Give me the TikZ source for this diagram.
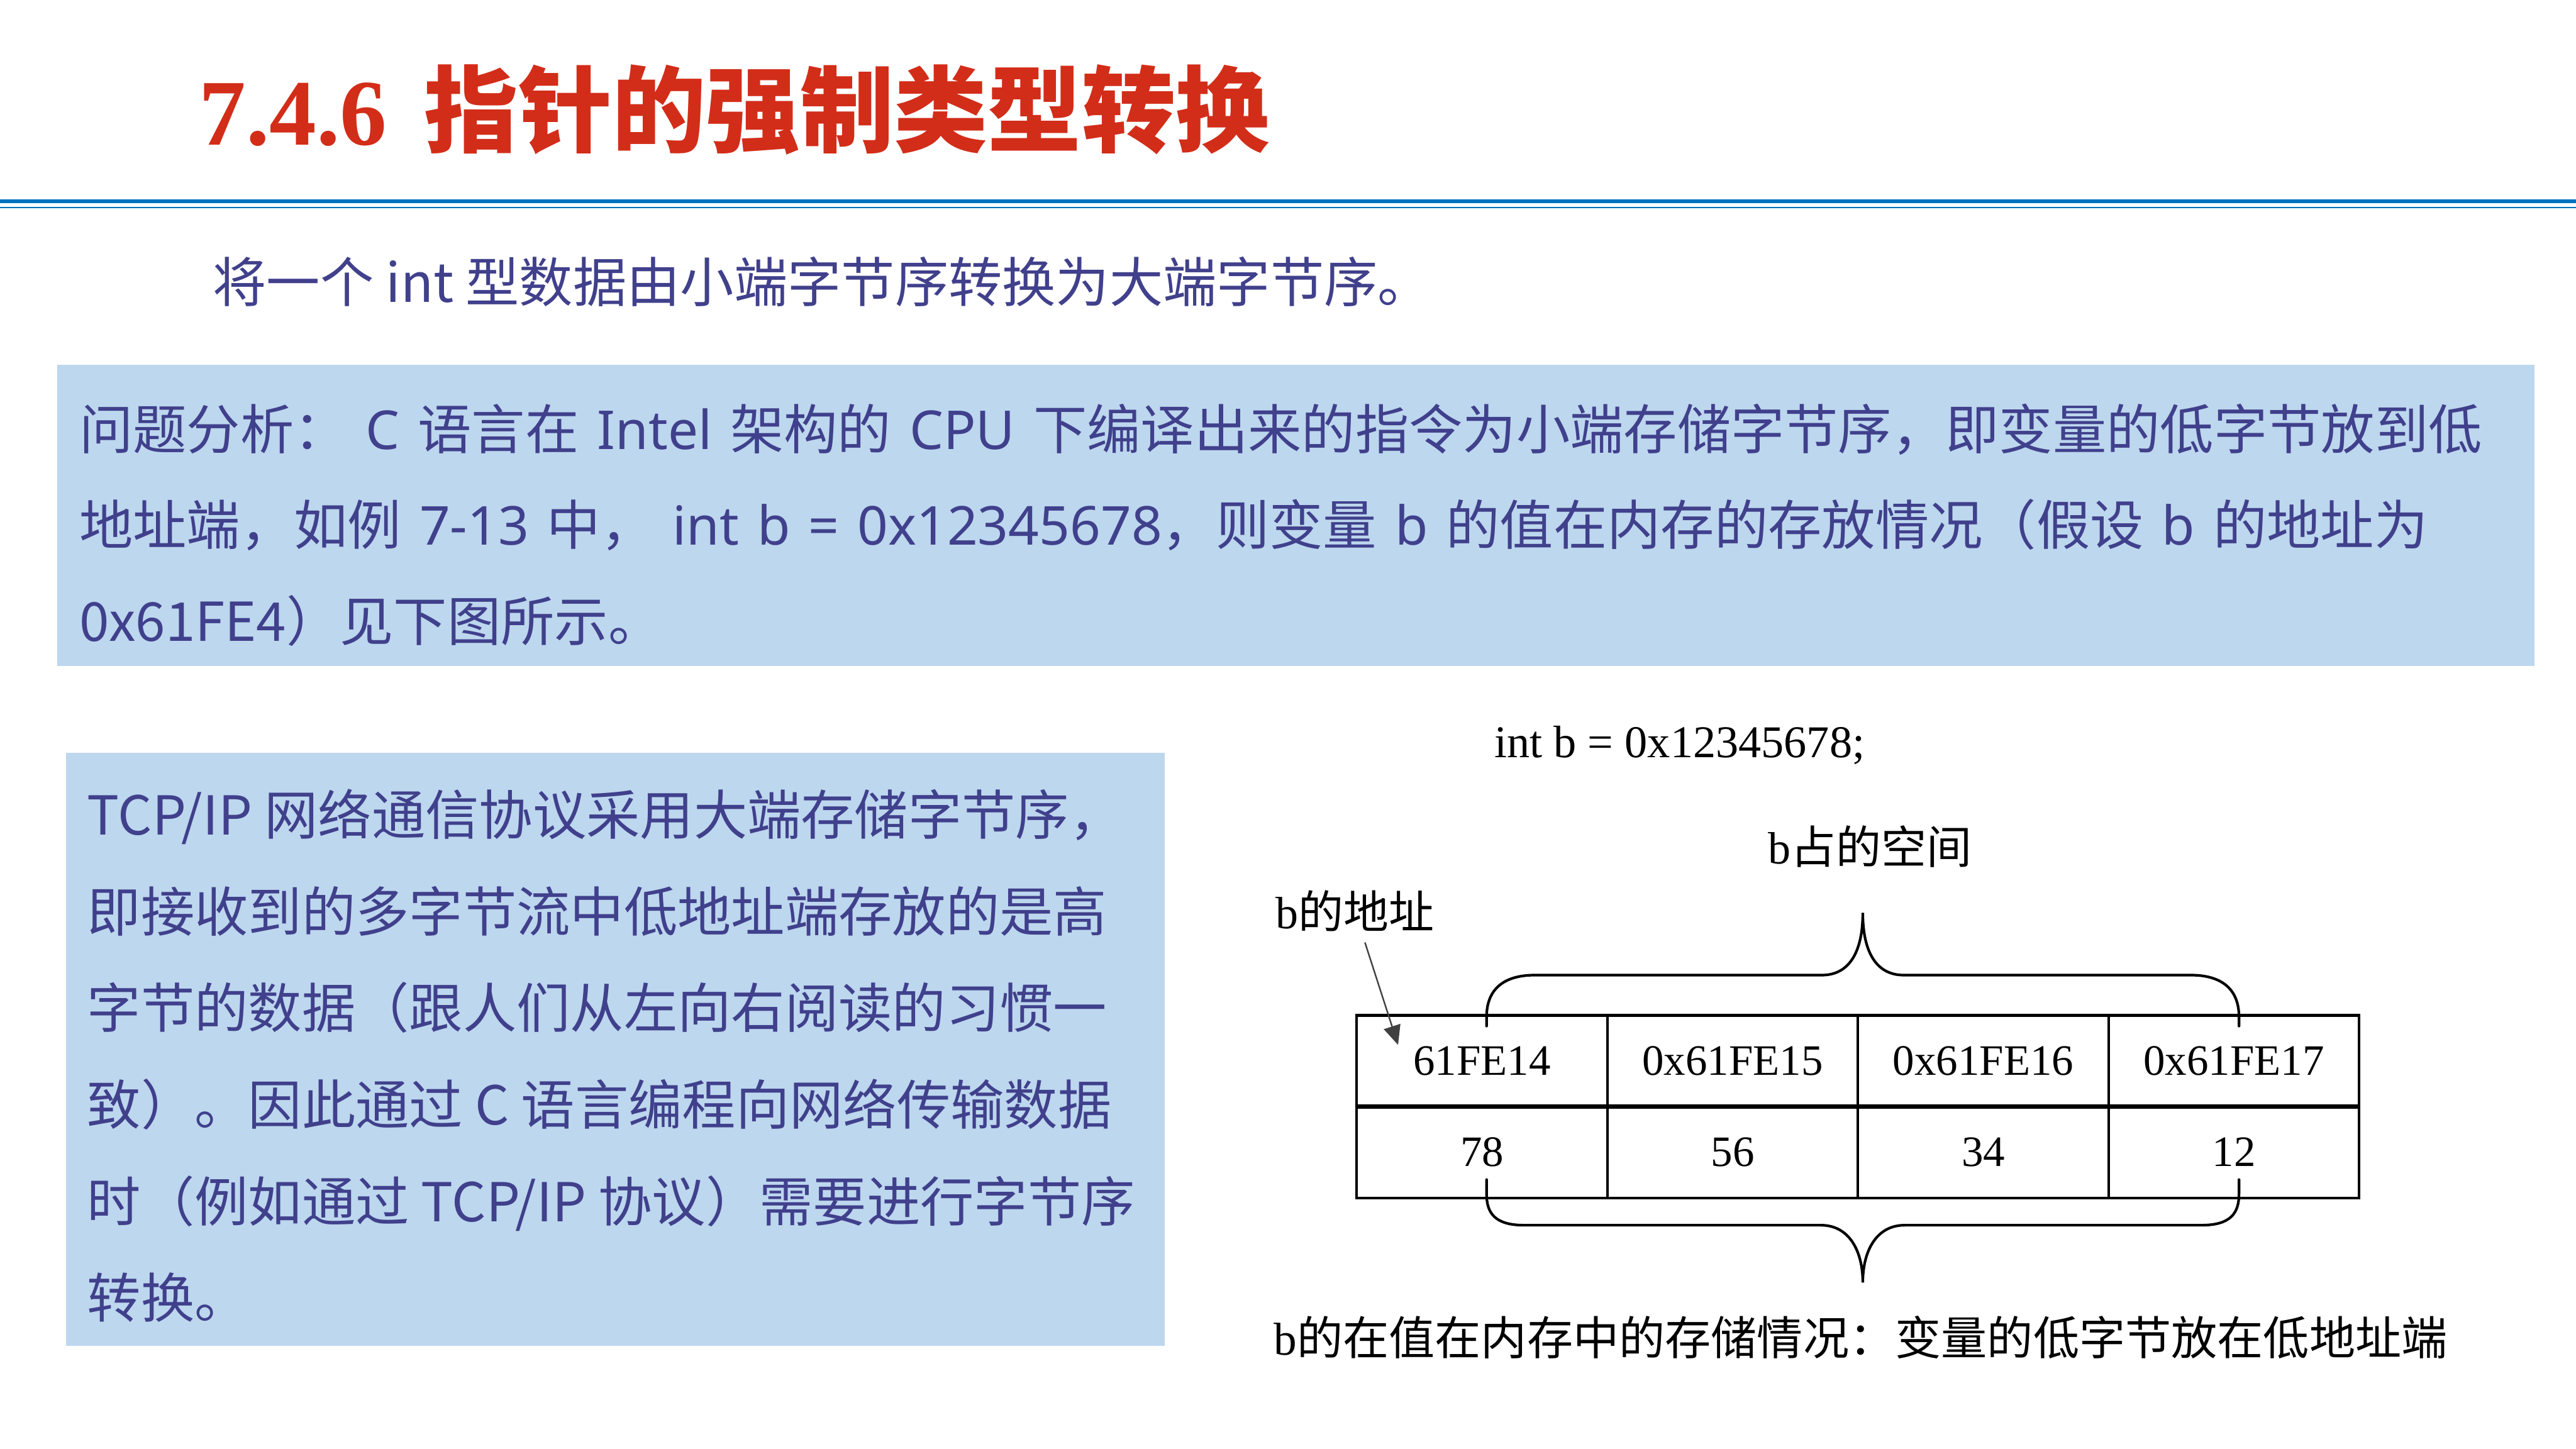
\documentclass[tikz,border=0pt]{standalone}
\usepackage{fontspec}
\setmainfont{Liberation Serif}
\newfontfamily\zhfont{Noto Sans CJK SC}
\newfontfamily\latfont{Noto Sans}
\usetikzlibrary{arrows.meta,positioning}
\definecolor{titlered}{RGB}{210,45,25}
\definecolor{barblue}{RGB}{0,112,192}
\definecolor{boxblue}{RGB}{189,215,238}
\definecolor{inkblue}{RGB}{64,64,140}
\newcommand{\zh}[1]{{\zhfont #1}}
\newcommand{\lat}[1]{{\latfont #1}}
\newcommand{\widesp}{\spaceskip=0.34em\relax}

\begin{document}
\begin{tikzpicture}[
        slide/.style={anchor=base west,inner sep=0pt,text=inkblue,font=\zhfont\fontsize{28.45}{34}\selectfont},
        cell/.style={draw,line width=1.4pt,minimum width=4.67cm,minimum height=1.70cm,inner sep=0pt,outer sep=0pt,font=\fontsize{23}{27}\selectfont},
        fig/.style={inner sep=0pt,font=\fontsize{24}{28}\selectfont},
        brace/.style={line width=1.4pt,line cap=round}
    ]
            \useasboundingbox (0,0) rectangle (48,27);
            \node[anchor=base west,inner sep=0pt,text=titlered] (title) at (3.70,24.30) {\fontsize{49.8}{56}\selectfont\bfseries 7.4.6\hspace{0.7cm}\zhfont 指针的强制类型转换};
            \fill[barblue] (0,23.21) rectangle (48,23.29);
            \fill[barblue] (0,23.118) rectangle (48,23.148);
            \node[slide] (sub) at (3.96,21.37) {将一个 int 型数据由小端字节序转换为大端字节序。};

            \fill[boxblue] (1.07,20.20) rectangle (47.23,14.59);
            \node[slide] (q1) at (1.47,18.63) {\widesp 问题分析： \lat{C} 语言在 \lat{Intel} 架构的 \lat{CPU} 下编译出来的指令为小端存储字节序，即变量的低字节放到低};
            \node[slide] (q2) at (1.47,16.85) {\widesp 地址端，如例 \lat{7-13} 中， \lat{int b = 0x12345678}，则变量 \lat{b} 的值在内存的存放情况（假设 \lat{b} 的地址为};
            \node[slide] (q3) at (1.47,15.05) {0x61FE4）见下图所示。};

            \fill[boxblue] (1.23,12.97) rectangle (21.70,1.92);
            \node[slide] (n1) at (1.62,11.44) {TCP/IP 网络通信协议采用大端存储字节序，};
            \node[slide] (n2) at (1.62,9.64) {即接收到的多字节流中低地址端存放的是高};
            \node[slide] (n3) at (1.62,7.84) {字节的数据（跟人们从左向右阅读的习惯一};
            \node[slide] (n4) at (1.62,6.04) {致）。因此通过 C 语言编程向网络传输数据};
            \node[slide] (n5) at (1.62,4.24) {时（例如通过 TCP/IP 协议）需要进行字节序};
            \node[slide] (n6) at (1.62,2.44) {转换。};

            \node[fig,anchor=base west,font=\fontsize{24.1}{28}\selectfont] (decl) at (27.84,12.89) {int b = 0x12345678;};
            \node[fig,anchor=base] (room) at (34.85,10.90) {b\zh{占的空间}};
            \node[fig,anchor=base west] (addr) at (23.77,9.70) {b\zh{的地址}};

            \node[cell] (a1) at (27.615,7.23) {61FE14};
            \node[cell,right=0pt of a1] (a2) {0x61FE15};
            \node[cell,right=0pt of a2] (a3) {0x61FE16};
            \node[cell,right=0pt of a3] (a4) {0x61FE17};
            \node[cell,below=0pt of a1] (v1) {78};
            \node[cell,below=0pt of a2] (v2) {56};
            \node[cell,below=0pt of a3] (v3) {34};
            \node[cell,below=0pt of a4] (v4) {12};
            \draw[line width=2.2pt] (a1.south west) -- (a4.south east);

            \coordinate (tip) at (26.05,7.53);
            \draw[-{Triangle[length=3.6mm,width=3.2mm]},line width=0.8pt,black!75] ([shift={(0.18,-0.2)}]addr.south) -- (tip);

            \draw[brace] (27.70,7.88) -- (27.70,8.05) .. controls (27.70,8.55) and (28.00,8.83) .. (28.60,8.83) -- (33.95,8.83) .. controls (34.45,8.83) and (34.71,9.25) .. (34.71,9.99) .. controls (34.71,9.25) and (34.97,8.83) .. (35.47,8.83) -- (40.82,8.83) .. controls (41.42,8.83) and (41.72,8.55) .. (41.72,8.05) -- (41.72,7.88);
            \draw[brace] (27.70,5.02) -- (27.70,4.75) .. controls (27.70,4.40) and (27.85,4.17) .. (28.40,4.17) -- (33.93,4.17) .. controls (34.45,4.17) and (34.71,3.70) .. (34.71,3.10) .. controls (34.71,3.70) and (34.97,4.17) .. (35.49,4.17) -- (41.02,4.17) .. controls (41.57,4.17) and (41.72,4.40) .. (41.72,4.75) -- (41.72,5.02);

            \node[fig,anchor=base west,font=\fontsize{24.4}{29}\selectfont] (cap) at (23.73,1.75) {b\zh{的在值在内存中的存储情况：变量的低字节放在低地址端}};
        \end{tikzpicture}
\end{document}
